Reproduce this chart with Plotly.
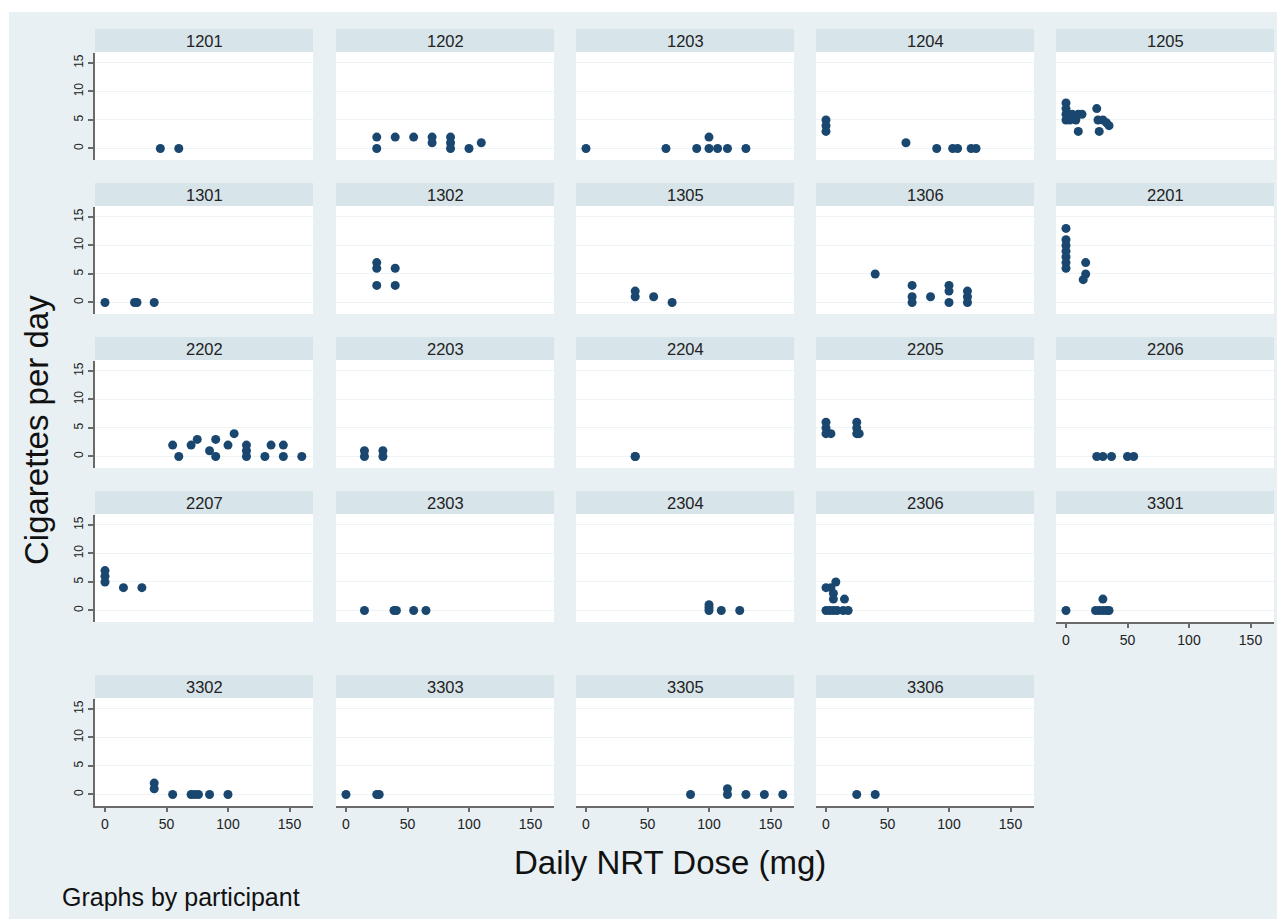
import plotly.graph_objects as go

# ---------------- data ----------------
participants = ["1201", "1202", "1203", "1204", "1205",
                "1301", "1302", "1305", "1306", "2201",
                "2202", "2203", "2204", "2205", "2206",
                "2207", "2303", "2304", "2306", "3301",
                "3302", "3303", "3305", "3306"]

dose_1201 = [45, 60]
cigs_1201 = [0, 0]
dose_1202 = [25, 25, 40, 55, 70, 70, 85, 85, 85, 100, 110]
cigs_1202 = [2, 0, 2, 2, 2, 1, 2, 1, 0, 0, 1]
dose_1203 = [0, 65, 90, 100, 100, 107, 115, 130]
cigs_1203 = [0, 0, 0, 2, 0, 0, 0, 0]
dose_1204 = [0, 0, 0, 65, 90, 103, 107, 118, 122]
cigs_1204 = [5, 4, 3, 1, 0, 0, 0, 0, 0]
dose_1205 = [0, 0, 0, 0, 3, 5, 8, 10, 13, 10, 25, 26, 27, 30, 33, 35]
cigs_1205 = [8, 7, 6, 5, 5, 6, 5, 6, 6, 3, 7, 5, 3, 5, 4.5, 4]

dose_1301 = [0, 24, 26, 40]
cigs_1301 = [0, 0, 0, 0]
dose_1302 = [25, 25, 25, 40, 40]
cigs_1302 = [7, 6, 3, 6, 3]
dose_1305 = [40, 40, 55, 70]
cigs_1305 = [2, 1, 1, 0]
dose_1306 = [40, 70, 70, 70, 85, 100, 100, 100, 115, 115, 115]
cigs_1306 = [5, 3, 1, 0, 1, 3, 2, 0, 2, 1, 0]
dose_2201 = [0, 0, 0, 0, 0, 0, 0, 16, 16, 14]
cigs_2201 = [13, 11, 10, 9, 8, 7, 6, 7, 5, 4]

dose_2202 = [55, 60, 70, 75, 85, 90, 90, 100, 105, 115, 115, 115, 130, 135, 145, 145, 160]
cigs_2202 = [2, 0, 2, 3, 1, 3, 0, 2, 4, 2, 1, 0, 0, 2, 2, 0, 0]
dose_2203 = [15, 15, 30, 30]
cigs_2203 = [1, 0, 1, 0]
dose_2204 = [40, 40]
cigs_2204 = [0, 0]
dose_2205 = [0, 0, 0, 4, 25, 25, 25, 27]
cigs_2205 = [6, 5, 4, 4, 6, 5, 4, 4]
dose_2206 = [25, 30, 37, 50, 55]
cigs_2206 = [0, 0, 0, 0, 0]

dose_2207 = [0, 0, 0, 15, 30]
cigs_2207 = [7, 6, 5, 4, 4]
dose_2303 = [15, 39, 41, 55, 65]
cigs_2303 = [0, 0, 0, 0, 0]
dose_2304 = [100, 100, 100, 110, 125]
cigs_2304 = [1, 0.5, 0, 0, 0]
dose_2306 = [0, 4, 8, 6, 6, 15, 0, 3, 6, 9, 14, 18]
cigs_2306 = [4, 4, 5, 3, 2, 2, 0, 0, 0, 0, 0, 0]
dose_3301 = [0, 24, 27, 30, 33, 35, 30]
cigs_3301 = [0, 0, 0, 0, 0, 0, 2]

dose_3302 = [40, 40, 55, 70, 73, 76, 85, 100]
cigs_3302 = [2, 1, 0, 0, 0, 0, 0, 0]
dose_3303 = [0, 25, 27]
cigs_3303 = [0, 0, 0]
dose_3305 = [85, 115, 115, 130, 145, 160]
cigs_3305 = [0, 1, 0, 0, 0, 0]
dose_3306 = [25, 40]
cigs_3306 = [0, 0]

x_ticks = [0, 50, 100, 150]
y_ticks = [0, 5, 10, 15]
x_title = "Daily NRT Dose (mg)"
y_title = "Cigarettes per day"
note = "Graphs by participant"

doses = [globals()["dose_" + p] for p in participants]
cigs = [globals()["cigs_" + p] for p in participants]

# ---------------- layout geometry (pixels) ----------------
W, H = 1277, 919
col_left = [95, 336, 576, 816, 1056]
col_w = 218
row_top = [29, 183, 337, 491, 675]
head_h = 23
plot_off_top = 24
plot_off_bot = 131

BG = "#E8F0F3"
HEAD = "#D7E4EA"
MARK = "#1A476F"
AXIS = "#6A6A6A"
GRID = "#EEF3F5"
FONT = "Liberation Sans, Arial, sans-serif"

def fx(px):
    return px / W

def fy(py):
    return 1 - py / H

fig = go.Figure()
shapes = [dict(type="rect", xref="paper", yref="paper",
               x0=fx(9), x1=1, y0=0, y1=fy(12),
               fillcolor=BG, line=dict(width=0), layer="below")]
annotations = []
layout_axes = {}

for i, p in enumerate(participants):
    r, c = divmod(i, 5)
    k = i + 1
    xl = col_left[c]
    xr = xl + col_w if c < 4 else 1274
    top = row_top[r]
    ptop = top + plot_off_top
    pbot = top + plot_off_bot
    # white plot region
    shapes.append(dict(type="rect", xref="paper", yref="paper",
                       x0=fx(xl), x1=fx(xr), y0=fy(pbot), y1=fy(top + head_h),
                       fillcolor="white", line=dict(width=0), layer="below"))
    # header strip
    shapes.append(dict(type="rect", xref="paper", yref="paper",
                       x0=fx(xl), x1=fx(xr), y0=fy(top + head_h), y1=fy(top),
                       fillcolor=HEAD, line=dict(width=0), layer="below"))
    annotations.append(dict(text=p, xref="paper", yref="paper",
                            x=fx((xl + xr) / 2), y=fy(top + head_h / 2 + 0.5),
                            showarrow=False, xanchor="center", yanchor="middle",
                            font=dict(family=FONT, size=16.5, color="#222222")))
    show_x = (r == 4) or (r == 3 and c == 4)
    show_y = (c == 0)
    xname = "xaxis" if k == 1 else f"xaxis{k}"
    yname = "yaxis" if k == 1 else f"yaxis{k}"
    layout_axes[xname] = dict(
        domain=[fx(xl), fx(xr)], anchor=f"y{k}" if k > 1 else "y",
        range=[-10 / 1.23, (xr - xl - 10) / 1.23],
        tickvals=x_ticks, showgrid=False, zeroline=False,
        showline=show_x, linecolor=AXIS, linewidth=1.5,
        ticks="outside" if show_x else "", ticklen=4, tickcolor=AXIS, tickwidth=1.5,
        showticklabels=show_x,
        tickfont=dict(family=FONT, size=14, color="#222222"),
        fixedrange=True)
    layout_axes[yname] = dict(
        domain=[fy(pbot), fy(ptop)], anchor=f"x{k}" if k > 1 else "x",
        range=[-2.02, 16.75],
        tickvals=y_ticks, showgrid=True, gridcolor=GRID, gridwidth=1,
        zeroline=False,
        showline=show_y, linecolor=AXIS, linewidth=1.5,
        ticks="outside" if show_y else "", ticklen=5, tickcolor=AXIS, tickwidth=1.5,
        showticklabels=show_y, tickangle=-90,
        tickfont=dict(family=FONT, size=12, color="#222222"),
        fixedrange=True)
    fig.add_trace(go.Scatter(
        x=doses[i], y=cigs[i], mode="markers",
        marker=dict(size=9, color=MARK, line=dict(width=0)),
        xaxis=f"x{k}" if k > 1 else "x", yaxis=f"y{k}" if k > 1 else "y",
        showlegend=False, name=p, cliponaxis=False))

annotations.append(dict(text=y_title, xref="paper", yref="paper",
                        x=fx(36), y=fy(430), textangle=-90, showarrow=False,
                        xanchor="center", yanchor="middle",
                        font=dict(family=FONT, size=33, color="#111111")))
annotations.append(dict(text=x_title, xref="paper", yref="paper",
                        x=fx(670), y=fy(862), showarrow=False,
                        xanchor="center", yanchor="middle",
                        font=dict(family=FONT, size=33, color="#111111")))
annotations.append(dict(text=note, xref="paper", yref="paper",
                        x=fx(60), y=fy(897), showarrow=False,
                        xanchor="left", yanchor="middle",
                        font=dict(family=FONT, size=25, color="#111111")))

fig.update_layout(
    width=W, height=H, margin=dict(l=0, r=0, t=0, b=0),
    paper_bgcolor="white", plot_bgcolor="rgba(0,0,0,0)",
    shapes=shapes, annotations=annotations, showlegend=False,
    **layout_axes)

fig.write_html("out.html", config={"displayModeBar": False})
